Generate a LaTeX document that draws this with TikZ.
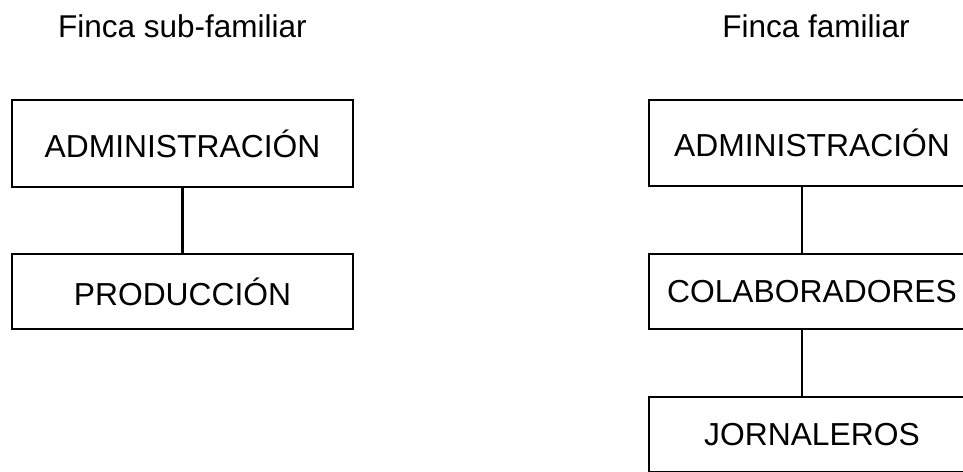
\documentclass[tikz,border=0pt]{standalone}
\usepackage{fontspec}
\setmainfont{Liberation Sans}
\begin{document}
\begin{tikzpicture}[x=1pt,y=-1pt,
  orgbox/.style={draw=black,line width=2.2pt,rectangle,inner sep=0pt,font=\fontsize{31.8}{36}\selectfont},
  link/.style={draw=black,line width=2.2pt},
  ttl/.style={font=\fontsize{31.5}{36}\selectfont,inner sep=0pt,anchor=base}]
\useasboundingbox (0,0) rectangle (963,471);
\clip (0,0) rectangle (963,471);
\node[ttl] (t1) at (182.5,37) {Finca sub-familiar};
\node[ttl] (t2) at (816,37) {Finca familiar};
\node[orgbox,minimum width=341pt,minimum height=87pt] (la) at (182.5,143.5) {ADMINISTRACIÓN};
\node[orgbox,minimum width=341pt,minimum height=75pt] (lp) at (182.5,291.5) {PRODUCCIÓN};
\node[orgbox,minimum width=326pt,minimum height=86pt] (ra) at (812,143) {ADMINISTRACIÓN};
\node[orgbox,minimum width=326pt,minimum height=75pt] (rc) at (812,291.5) {COLABORADORES};
\node[orgbox,minimum width=326pt,minimum height=75pt] (rj) at (812,434.5) {JORNALEROS};
\draw[link] (la.south) -- (lp.north);
\draw[link] ([xshift=-10pt]ra.south) -- ([xshift=-10pt]rc.north);
\draw[link] ([xshift=-10pt]rc.south) -- ([xshift=-10pt]rj.north);
\end{tikzpicture}
\end{document}
